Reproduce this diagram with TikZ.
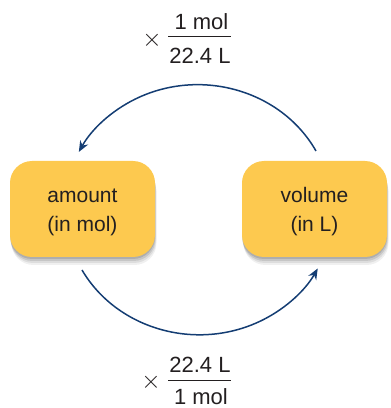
\documentclass[tikz,border=0pt]{standalone}
\usepackage{fontspec}
\setmainfont{Liberation Sans}
\usetikzlibrary{arrows.meta,shadows}
\definecolor{boxfill}{HTML}{FDC94F}
\definecolor{navy}{HTML}{143D73}
\definecolor{ink}{HTML}{231F20}
\tikzset{
  qbox/.style={fill=boxfill, rounded corners=22pt, minimum width=145pt, minimum height=96pt,
    align=center, text=ink, font=\fontsize{21}{29}\selectfont, inner sep=0pt,
    drop shadow={shadow xshift=1.5pt, shadow yshift=-8pt, opacity=0.06, fill=black},
    drop shadow={shadow xshift=1pt, shadow yshift=-6pt, opacity=0.08, fill=black},
    drop shadow={shadow xshift=0.5pt, shadow yshift=-4pt, opacity=0.10, fill=black},
    drop shadow={shadow xshift=0pt, shadow yshift=-2pt, opacity=0.12, fill=black}},
  conn/.style={draw=navy, line width=1.5pt, -{Stealth[length=11pt, width=9pt]}},
  ftext/.style={text=ink, font=\fontsize{22}{25}\selectfont, anchor=base, inner sep=0pt},
  fbar/.style={draw=ink, line width=1pt},
  times/.style={text=ink, font=\fontsize{29}{30}\selectfont, inner sep=0pt}
}
\begin{document}
\begin{tikzpicture}[x=1pt, y=1pt]
\useasboundingbox (0,0) rectangle (391,408);
% boxes
\node[qbox] (amount) at (82.5,199) {\rule{0pt}{21pt}amount\\(in mol)};
\node[qbox] (volume) at (314.5,199) {\rule{0pt}{21pt}volume\\(in L)};
% arcs
\coordinate (tstart) at (316,257);
\coordinate (bstart) at (82,138);
\draw[conn] (tstart) arc[start angle=28, end angle=152.5, x radius=134, y radius=125];
\draw[conn] (bstart) arc[start angle=208.8, end angle=332, x radius=134, y radius=125];
% top fraction
\node[times] (ttimes) at (152,368) {$\times$};
\node[ftext] (tnum) at (201.5,378) {1\hspace{6pt}mol};
\node[ftext] (tden) at (200,344) {22.4 L};
\coordinate (tbarl) at (168,371);
\coordinate (tbarr) at (231,371);
\draw[fbar] (tbarl) -- (tbarr);
% bottom fraction
\node[times] (btimes) at (151,26) {$\times$};
\node[ftext] (bnum) at (200,35) {22.4 L};
\node[ftext] (bden) at (201,3.5) {1\hspace{6pt}mol};
\coordinate (bbarl) at (168,27.3);
\coordinate (bbarr) at (231,27.3);
\draw[fbar] (bbarl) -- (bbarr);
\end{tikzpicture}
\end{document}
